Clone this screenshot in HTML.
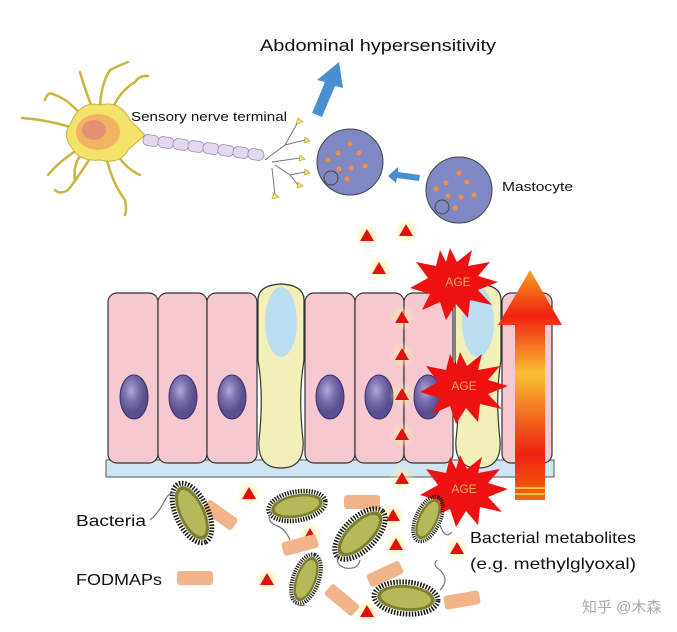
<!DOCTYPE html>
<html><head><meta charset="utf-8"><style>
html,body{margin:0;padding:0;background:#fff;width:677px;height:632px;overflow:hidden}
svg{display:block}
text{font-family:"Liberation Sans","Noto Sans CJK SC",sans-serif}
</style></head><body>
<svg width="677" height="632" viewBox="0 0 677 632" xmlns="http://www.w3.org/2000/svg">
<defs>
<radialGradient id="glow"><stop offset="0" stop-color="#ffe680" stop-opacity="0.9"/><stop offset="1" stop-color="#fff3b0" stop-opacity="0"/></radialGradient>
<linearGradient id="bigArrow" x1="0" y1="1" x2="0" y2="0"><stop offset="0" stop-color="#f36a10"/><stop offset="0.2" stop-color="#ee2010"/><stop offset="0.55" stop-color="#f9c030"/><stop offset="0.8" stop-color="#f02010"/><stop offset="1" stop-color="#f7a020"/></linearGradient>
<radialGradient id="nuc" cx="0.4" cy="0.35"><stop offset="0" stop-color="#b0aad8"/><stop offset="0.5" stop-color="#7d72b0"/><stop offset="1" stop-color="#5a4f8e"/></radialGradient>
<g id="tri"><circle r="13" fill="url(#glow)"/><polygon points="0,-7 7,5 -7,5" fill="#e01010"/></g>
<g id="bact"><ellipse rx="32" ry="16" fill="none" stroke="#1a1a10" stroke-width="5" stroke-dasharray="1.5 1.5"/><ellipse rx="29" ry="13" fill="#7d8030"/><ellipse rx="25" ry="10" fill="#b6b95a"/></g>
<g id="fod"><rect x="-18" y="-7" width="36" height="14" rx="3" fill="#f2b48a"/></g>
</defs>

<!-- titles -->
<text x="260" y="51" font-size="17" fill="#111" textLength="236" lengthAdjust="spacingAndGlyphs">Abdominal hypersensitivity</text>
<text x="131" y="121" font-size="12.5" fill="#111" textLength="156" lengthAdjust="spacingAndGlyphs">Sensory nerve terminal</text>
<text x="502" y="191" font-size="13" fill="#111" textLength="71" lengthAdjust="spacingAndGlyphs">Mastocyte</text>

<!-- blue arrow up -->
<polygon points="312,113 325,82 317,80 339,62 343,88 335,86 322,117" fill="#4a90d0"/>
<!-- blue arrow left -->
<polygon points="420,175 398,172 398,167 388,176 396,183 397,178 419,181" fill="#4a90d0"/>

<!-- neuron -->
<g stroke="#c9b540" stroke-width="2.5" fill="none" stroke-linecap="round">
<path d="M80,130 Q50,120 22,118"/>
<path d="M85,120 Q70,100 55,95 Q48,90 45,100"/>
<path d="M95,115 Q85,90 80,72"/>
<path d="M100,112 Q100,85 110,70 Q120,65 128,62"/>
<path d="M110,115 Q118,92 135,82 Q140,75 148,76"/>
<path d="M85,145 Q60,160 48,175"/>
<path d="M95,150 Q80,175 68,190 Q60,195 55,190"/>
<path d="M105,150 Q110,180 125,200 Q127,210 125,215"/>
<path d="M88,148 Q72,160 75,180"/>
<path d="M115,148 Q120,165 140,175"/>
</g>
<g stroke="#c9b540" stroke-width="1" fill="#f3e36a">
<path d="M70,125 Q80,100 100,105 Q120,100 130,120 L145,135 L128,150 Q120,165 100,160 Q80,162 72,148 Q62,135 70,125 Z"/>
</g>
<ellipse cx="98" cy="132" rx="22" ry="18" fill="#f0a060" opacity="0.7"/>
<ellipse cx="94" cy="130" rx="12" ry="10" fill="#e0807a" opacity="0.7"/>
<g fill="#e4d8ee" stroke="#9a8fb0" stroke-width="0.8">
<rect x="143" y="135" width="16" height="11" rx="5" transform="rotate(8 151 140)"/>
<rect x="158" y="137" width="16" height="11" rx="5" transform="rotate(8 166 142)"/>
<rect x="173" y="139" width="16" height="11" rx="5" transform="rotate(8 181 144)"/>
<rect x="188" y="141" width="16" height="11" rx="5" transform="rotate(8 196 146)"/>
<rect x="203" y="143" width="16" height="11" rx="5" transform="rotate(8 211 148)"/>
<rect x="218" y="145" width="16" height="11" rx="5" transform="rotate(8 226 150)"/>
<rect x="233" y="147" width="16" height="11" rx="5" transform="rotate(8 241 152)"/>
<rect x="248" y="149" width="16" height="11" rx="5" transform="rotate(8 256 154)"/>
</g>
<g stroke="#777" stroke-width="1" fill="none">
<path d="M265,160 L285,145 L298,122 M285,145 L305,140 M272,162 L300,158 M275,165 L290,175 L298,185 M272,168 L275,195 M290,175 L305,172"/>
</g>
<g fill="#f3e36a" stroke="#a89a40" stroke-width="0.6">
<polygon points="298,118 303,122 296,124"/><polygon points="305,137 310,141 304,143"/><polygon points="300,155 305,159 299,161"/><polygon points="298,182 303,186 297,188"/><polygon points="274,193 279,197 272,199"/><polygon points="305,169 310,173 304,175"/>
</g>

<!-- mast cells -->
<g>
<circle cx="350" cy="162" r="33" fill="#8088c4" stroke="#444" stroke-width="1"/>
<circle cx="331" cy="178" r="7" fill="#8088c4" stroke="#444" stroke-width="1"/>
<g fill="#f09040"><circle cx="350" cy="144" r="2.5"/><circle cx="338" cy="153" r="2.5"/><circle cx="359" cy="153" r="2.5"/><circle cx="328" cy="160" r="2.5"/><circle cx="351" cy="168" r="2.5"/><circle cx="365" cy="166" r="2.5"/><circle cx="339" cy="169" r="2.5"/><circle cx="347" cy="179" r="2.5"/></g>
<circle cx="459" cy="190" r="33" fill="#8088c4" stroke="#444" stroke-width="1"/>
<circle cx="442" cy="207" r="7" fill="#8088c4" stroke="#444" stroke-width="1"/>
<g fill="#f09040"><circle cx="459" cy="173" r="2.5"/><circle cx="446" cy="183" r="2.5"/><circle cx="467" cy="182" r="2.5"/><circle cx="436" cy="189" r="2.5"/><circle cx="448" cy="196" r="2.5"/><circle cx="461" cy="197" r="2.5"/><circle cx="474" cy="195" r="2.5"/><circle cx="455" cy="208" r="2.5"/></g>
</g>

<!-- basal band -->
<rect x="106" y="460" width="448" height="17" fill="#cfe6f2" stroke="#555" stroke-width="1"/>
<!-- cells -->
<g stroke="#333" stroke-width="1.2" fill="#f6c8d0">
<rect x="108" y="293" width="50" height="170" rx="9"/>
<rect x="158" y="293" width="49" height="170" rx="9"/>
<rect x="207" y="293" width="50" height="170" rx="9"/>
<rect x="305" y="293" width="50" height="170" rx="9"/>
<rect x="355" y="293" width="49" height="170" rx="9"/>
<rect x="404" y="293" width="49" height="170" rx="9"/>
<rect x="502" y="293" width="50" height="170" rx="9"/>
</g>
<!-- goblet cells -->
<g stroke="#333" stroke-width="1.2" fill="#f2f0b8">
<path d="M258,300 Q258,285 281,284 Q304,285 304,300 L304,360 Q298,395 303,440 Q305,468 281,468 Q257,468 259,440 Q264,395 258,360 Z"/>
<path d="M455,300 Q455,285 478,284 Q501,285 501,300 L501,360 Q495,395 500,440 Q502,468 478,468 Q454,468 456,440 Q461,395 455,360 Z"/>
</g>
<ellipse cx="281" cy="322" rx="16" ry="35" fill="#b8def0"/>
<ellipse cx="478" cy="322" rx="16" ry="35" fill="#b8def0"/>
<!-- nuclei -->
<g fill="url(#nuc)" stroke="#3a3070" stroke-width="1">
<ellipse cx="134" cy="397" rx="14" ry="22"/>
<ellipse cx="183" cy="397" rx="14" ry="22"/>
<ellipse cx="232" cy="397" rx="14" ry="22"/>
<ellipse cx="330" cy="397" rx="14" ry="22"/>
<ellipse cx="379" cy="397" rx="14" ry="22"/>
<ellipse cx="428" cy="397" rx="14" ry="22"/>
</g>

<!-- big arrow -->
<polygon points="515,500 515,325 498,325 530,270 562,325 545,325 545,500" fill="url(#bigArrow)"/>
<g stroke="#f9c040" stroke-width="2"><line x1="515" y1="488" x2="545" y2="488"/><line x1="515" y1="494" x2="545" y2="494"/></g>

<!-- AGE bursts -->
<g fill="#ee1111">
<polygon points="450,248 457,262 472,250 468,266 490,262 478,276 498,282 478,290 492,305 470,300 468,318 456,304 446,320 440,302 422,310 430,294 410,288 428,278 416,262 436,266 440,250 446,262"/>
<polygon points="460,352 467,366 482,354 478,370 500,366 488,380 508,386 488,394 502,409 480,404 478,422 466,408 456,424 450,406 432,414 440,398 420,392 438,382 426,366 446,370 450,354 456,366"/>
<polygon points="460,455 467,469 482,457 478,473 500,469 488,483 508,489 488,497 502,512 480,507 478,525 466,511 456,527 450,509 432,517 440,501 420,495 438,485 426,469 446,473 450,457 456,469"/>
</g>
<g font-size="12" fill="#f7b060" text-anchor="middle">
<text x="458" y="286">AGE</text><text x="464" y="390">AGE</text><text x="464" y="493">AGE</text>
</g>

<!-- triangles -->
<use href="#tri" x="367" y="236"/><use href="#tri" x="406" y="231"/><use href="#tri" x="379" y="269"/>
<use href="#tri" x="402" y="318"/><use href="#tri" x="402" y="355"/><use href="#tri" x="402" y="395"/><use href="#tri" x="402" y="435"/><use href="#tri" x="402" y="479"/>
<use href="#tri" x="249" y="494"/><use href="#tri" x="310" y="535"/><use href="#tri" x="393" y="516"/><use href="#tri" x="396" y="545"/><use href="#tri" x="457" y="549"/>
<use href="#tri" x="267" y="580"/><use href="#tri" x="367" y="612"/>

<!-- FODMAPs pieces -->
<use href="#fod" transform="translate(220,515) rotate(35)"/>
<use href="#fod" transform="translate(362,502)"/>
<use href="#fod" transform="translate(300,545) rotate(-15)"/>
<use href="#fod" transform="translate(385,574) rotate(-25)"/>
<use href="#fod" transform="translate(342,600) rotate(40)"/>
<use href="#fod" transform="translate(462,600) rotate(-10)"/>
<use href="#fod" transform="translate(195,578)"/>

<!-- bacteria -->
<use href="#bact" transform="translate(192,513) rotate(65)"/>
<use href="#bact" transform="translate(297,506) rotate(-10) scale(0.9)"/>
<use href="#bact" transform="translate(360,534) rotate(-45)"/>
<use href="#bact" transform="translate(428,519) rotate(-65) scale(0.75)"/>
<use href="#bact" transform="translate(306,579) rotate(-70) scale(0.8)"/>
<use href="#bact" transform="translate(406,598) rotate(5)"/>
<g stroke="#777" stroke-width="1.2" fill="none">
<path d="M150,520 Q158,514 165,500 Q170,490 178,494"/>
<path d="M272,512 Q265,520 275,525 Q285,528 290,540"/>
<path d="M338,555 Q335,565 345,568 Q358,570 360,560"/>
<path d="M440,525 Q445,540 452,532"/>
<path d="M293,597 Q296,608 305,605"/>
<path d="M440,590 Q450,580 440,570 Q432,565 437,560"/>
</g>

<!-- labels -->
<text x="76" y="526" font-size="15.5" fill="#111" textLength="70" lengthAdjust="spacingAndGlyphs">Bacteria</text>
<text x="76" y="585" font-size="15.5" fill="#111" textLength="86" lengthAdjust="spacingAndGlyphs">FODMAPs</text>
<text x="470" y="543" font-size="16" fill="#111" textLength="166" lengthAdjust="spacingAndGlyphs">Bacterial metabolites</text>
<text x="470" y="569" font-size="16" fill="#111" textLength="166" lengthAdjust="spacingAndGlyphs">(e.g. methylglyoxal)</text>
<text x="582" y="612" font-size="15" fill="#aaa">知乎 @木森</text>
</svg>
</body></html>
